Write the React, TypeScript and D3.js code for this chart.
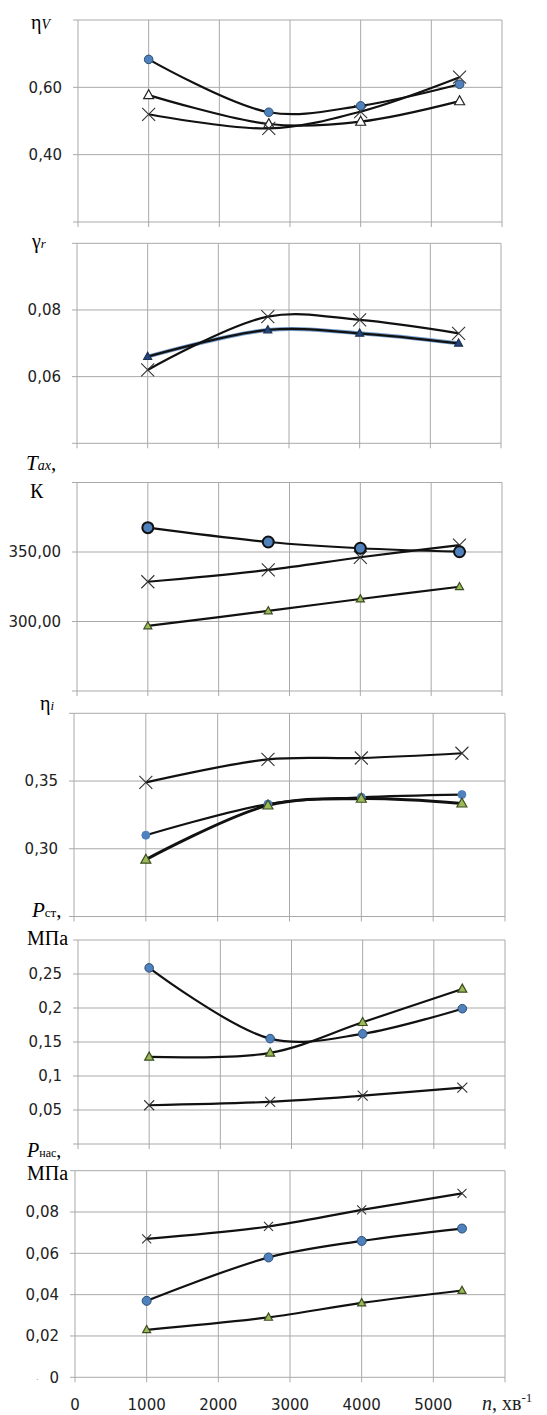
import React from "react";
import * as d3 from "d3";

// engine speed, min^-1
const rpm = [1000, 2700, 4000, 5400];

// volumetric efficiency
const etaVCircle = [0.683, 0.526, 0.545, 0.609];
const etaVTriangle = [0.577, 0.491, 0.498, 0.559];
const etaVCross = [0.52, 0.478, 0.528, 0.63];

// residual gas fraction
const gammaCross = [0.062, 0.078, 0.077, 0.073];
const gammaTriangle = [0.066, 0.074, 0.073, 0.07];

// intake temperature, K
const taxCircle = [367.5, 357.2, 352.7, 350.2];
const taxCross = [328.6, 337.1, 346.2, 355];
const taxTriangle = [296.8, 307.6, 316.2, 325];

// indicated efficiency
const etaICross = [0.349, 0.366, 0.367, 0.3705];
const etaICircle = [0.31, 0.333, 0.338, 0.34];
const etaITriangle = [0.292, 0.332, 0.337, 0.3335];

// Pст, MPa
const pstCircle = [0.259, 0.155, 0.162, 0.199];
const pstTriangle = [0.128, 0.134, 0.179, 0.228];
const pstCross = [0.057, 0.062, 0.071, 0.083];

// Pнас, MPa
const pnasCross = [0.067, 0.073, 0.081, 0.089];
const pnasCircle = [0.037, 0.058, 0.066, 0.072];
const pnasTriangle = [0.023, 0.029, 0.036, 0.042];

// axes
const xTicks = [0, 1000, 2000, 3000, 4000, 5000, 6000];
const xTickLabels = ["0", "1000", "2000", "3000", "4000", "5000"];
const yTicks1 = [0.4, 0.6];
const yTicks2 = [0.06, 0.08];
const yTicks3 = [300, 350];
const yTicks4 = [0.3, 0.35];
const yTicks5 = [0.05, 0.1, 0.15, 0.2, 0.25];
const yTicks6 = [0, 0.02, 0.04, 0.06, 0.08];

const GRID = "#a9a9a9";
const BLUE = "#4f81bd";
const GREEN = "#9bbb59";

const fmt2 = (v: number) => v.toFixed(2).replace(".", ",");
const fmtGen = (v: number) => String(+v.toFixed(3)).replace(".", ",");

type Series = {
  values: number[];
  marker: "circle" | "triangle" | "cross";
  fill?: string;
  stroke?: string;
  size: number;
  lw?: number;
  halo?: string;
};

type Panel = {
  domain: [number, number];
  gridStep: number;
  ticks: number[];
  fmt: (v: number) => string;
  top: number;
  bottom: number;
  left: number;
  right: number;
  series: Series[];
  label: React.ReactNode;
};

const serif = "Liberation Serif";
const sans = "DejaVu Sans";

const panels: Panel[] = [
  {
    domain: [0.2, 0.8], gridStep: 0.2, ticks: yTicks1, fmt: fmt2,
    top: 20, bottom: 222, left: 78, right: 502,
    series: [
      { values: etaVTriangle, marker: "triangle", fill: "#fff", stroke: "#222", size: 10 },
      { values: etaVCross, marker: "cross", stroke: "#333", size: 13 },
      { values: etaVCircle, marker: "circle", fill: BLUE, stroke: "#2c4d75", size: 4.3 },
    ],
    label: (
      <text x={31} y={29} fontFamily={serif} fontSize={20}>
        η<tspan fontStyle="italic" fontSize={14}>V</tspan>
      </text>
    ),
  },
  {
    domain: [0.04, 0.1], gridStep: 0.02, ticks: yTicks2, fmt: fmt2,
    top: 243.3, bottom: 443.3, left: 77, right: 501,
    series: [
      { values: gammaTriangle, marker: "triangle", fill: "#1f497d", stroke: "#1f3050", size: 8, halo: BLUE, lw: 2.3 },
      { values: gammaCross, marker: "cross", stroke: "#333", size: 13 },
    ],
    label: (
      <text x={32} y={248} fontFamily={serif} fontSize={20}>
        γ<tspan fontStyle="italic" fontSize={13}>r</tspan>
      </text>
    ),
  },
  {
    domain: [250, 400], gridStep: 50, ticks: yTicks3, fmt: fmt2,
    top: 482.5, bottom: 691, left: 77, right: 502,
    series: [
      { values: taxTriangle, marker: "triangle", fill: GREEN, stroke: "#3d4d22", size: 8 },
      { values: taxCross, marker: "cross", stroke: "#333", size: 13 },
      { values: taxCircle, marker: "circle", fill: BLUE, stroke: "#111", size: 5.5, lw: 2 },
    ],
    label: (
      <g fontFamily={serif}>
        <text x={26} y={470} fontSize={21}>
          <tspan fontStyle="italic">T</tspan>
          <tspan fontStyle="italic" fontSize={14}>ax</tspan>,
        </text>
        <text x={30} y={498} fontSize={20}>К</text>
      </g>
    ),
  },
  {
    domain: [0.25, 0.4], gridStep: 0.05, ticks: yTicks4, fmt: fmt2,
    top: 713.3, bottom: 916.5, left: 74, right: 505,
    series: [
      { values: etaICross, marker: "cross", stroke: "#333", size: 13 },
      { values: etaICircle, marker: "circle", fill: BLUE, stroke: BLUE, size: 4 },
      { values: etaITriangle, marker: "triangle", fill: GREEN, stroke: "#3d4d22", size: 10, lw: 3 },
    ],
    label: (
      <text x={40} y={710} fontFamily={serif} fontSize={20}>
        η<tspan fontStyle="italic" fontSize={13}>i</tspan>
      </text>
    ),
  },
  {
    domain: [0, 0.3], gridStep: 0.05, ticks: yTicks5, fmt: fmtGen,
    top: 940, bottom: 1144, left: 78, right: 505,
    series: [
      { values: pstCross, marker: "cross", stroke: "#333", size: 10 },
      { values: pstTriangle, marker: "triangle", fill: GREEN, stroke: "#3d4d22", size: 9 },
      { values: pstCircle, marker: "circle", fill: BLUE, stroke: "#2c4d75", size: 4.3 },
    ],
    label: (
      <g fontFamily={serif}>
        <text x={32} y={917} fontSize={21}>
          <tspan fontStyle="italic">P</tspan>
          <tspan fontSize={13}>ст</tspan>,
        </text>
        <text x={27} y={945} fontSize={20}>МПа</text>
      </g>
    ),
  },
  {
    domain: [0, 0.1], gridStep: 0.02, ticks: yTicks6, fmt: fmtGen,
    top: 1170.7, bottom: 1377.3, left: 75, right: 505,
    series: [
      { values: pnasCross, marker: "cross", stroke: "#333", size: 9 },
      { values: pnasCircle, marker: "circle", fill: BLUE, stroke: "#2c4d75", size: 4.5 },
      { values: pnasTriangle, marker: "triangle", fill: GREEN, stroke: "#3d4d22", size: 8 },
    ],
    label: (
      <g fontFamily={serif}>
        <text x={27} y={1157} fontSize={20}>
          <tspan fontStyle="italic">P</tspan>
          <tspan fontSize={12}>нас</tspan>,
        </text>
        <text x={27} y={1180} fontSize={20}>МПа</text>
      </g>
    ),
  },
];

const Marker = ({ s, x, y }: { s: Series; x: number; y: number }) => {
  const k = s.size;
  if (s.marker === "circle")
    return <circle cx={x} cy={y} r={k} fill={s.fill} stroke={s.stroke} strokeWidth={s.lw ? s.lw : 1} />;
  if (s.marker === "triangle") {
    const h = k * 0.9;
    const pts = `${x},${y - h * 0.6} ${x + k / 2},${y + h * 0.4} ${x - k / 2},${y + h * 0.4}`;
    return <polygon points={pts} fill={s.fill} stroke={s.stroke} strokeWidth={1.2} />;
  }
  const r = k / 2;
  return (
    <path d={`M${x - r},${y - r}L${x + r},${y + r}M${x - r},${y + r}L${x + r},${y - r}`} stroke={s.stroke} strokeWidth={1.1} />
  );
};

const ChartPanel = ({ p, showX }: { p: Panel; showX: boolean }) => {
  const x = d3.scaleLinear().domain([0, 6000]).range([p.left, p.right]);
  const y = d3.scaleLinear().domain(p.domain).range([p.bottom, p.top]);
  const grid = d3.range(p.domain[0], p.domain[1] + p.gridStep / 2, p.gridStep);
  const line = d3
    .line<number>()
    .x((_, i) => x(rpm[i]))
    .y(d => y(d))
    .curve(d3.curveCatmullRom.alpha(0.5));

  return (
    <g>
      {grid.map((g, i) => (
        <line key={"h" + i} x1={p.left - 5} x2={p.right} y1={y(g)} y2={y(g)} stroke={GRID} strokeWidth={1} />
      ))}
      {xTicks.map(t => (
        <line key={"v" + t} x1={x(t)} x2={x(t)} y1={p.top} y2={p.bottom + 5} stroke={GRID} strokeWidth={1} />
      ))}
      {p.ticks.map(t => (
        <text key={"t" + t} x={p.left - 16} y={y(t)} dy="0.36em" textAnchor="end" fontFamily={sans} fontSize={15} fill="#222">
          {p.fmt(t)}
        </text>
      ))}
      {p.series.map((s, i) => (
        <g key={"s" + i}>
          {s.halo && <path d={line(s.values) || ""} fill="none" stroke={s.halo} strokeWidth={4} opacity={0.8} />}
          <path d={line(s.values) || ""} fill="none" stroke="#111" strokeWidth={s.lw && s.marker !== "circle" ? s.lw : 2.2} />
        </g>
      ))}
      {p.series.map((s, i) =>
        s.values.map((v, j) => <Marker key={`m${i}-${j}`} s={s} x={x(rpm[j])} y={y(v)} />)
      )}
      {p.label}
      {showX && (
        <g>
          <text x={36} y={1380} fontFamily={sans} fontSize={8} fill="#7f9fbf">.</text>
          {xTickLabels.map((l, i) => (
            <text key={"x" + i} x={x(xTicks[i])} y={1410} textAnchor="middle" fontFamily={sans} fontSize={15} fill="#222">
              {l}
            </text>
          ))}
          <text x={482} y={1410} fontFamily={serif} fontSize={20} fill="#222">
            <tspan fontStyle="italic">n</tspan>, хв
            <tspan fontSize={13} dy={-8}>-1</tspan>
          </text>
        </g>
      )}
    </g>
  );
};

const App = () => (
  <svg width={547} height={1415} style={{ position: "absolute", left: 0, top: 0, background: "#fff" }}>
    <rect width={547} height={1415} fill="#fff" />
    {panels.map((p, i) => (
      <ChartPanel key={i} p={p} showX={i === panels.length - 1} />
    ))}
  </svg>
);

export default App;
